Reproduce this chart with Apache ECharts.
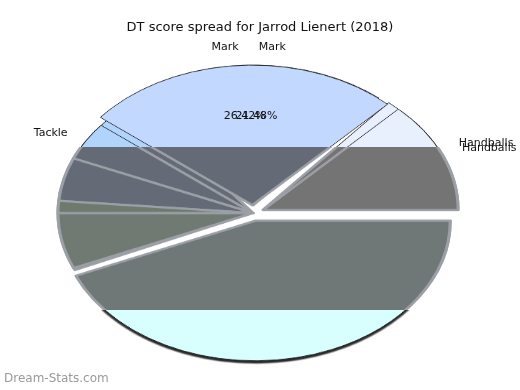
<!DOCTYPE html>
<html><head><meta charset="utf-8">
<script src="https://cdn.jsdelivr.net/npm/echarts@6/dist/echarts.min.js"></script>
<style>
html,body{margin:0;padding:0;width:520px;height:390px;overflow:hidden;background:#fff;}
.layer{position:absolute;left:0;top:0;width:520px;height:390px;}
.scaled{position:absolute;left:0;top:0;width:520px;height:560px;transform:scaleY(0.718);transform-origin:0 213px;}
#bandWrap{clip-path:inset(147px 0 80px 0);}
</style></head>
<body>
<div class="layer"><div id="base" class="scaled"></div></div>
<div class="layer" id="bandWrap"><div id="band" class="scaled"></div></div>
<div class="layer" id="text"></div>
<script>
// ---- data ----
const categories = ['Handballs', 'Mark', 'Tackle', 'Hitout', 'Free', 'Goal', 'Kick'];
const spreadA = [12.8, 26.42, 4.4, 5.0, 1.4, 6.4, 43.58];
const spreadB = [13.85, 21.48, 6.35, 6.0, 2.0, 7.0, 43.32];
const labelledA = ['Handballs', 'Mark', 'Tackle'];
const labelledB = ['Handballs', 'Mark'];
const pctShown = ['Mark'];
const exploded = ['Handballs', 'Mark', 'Kick'];

// ---- styling ----
const SY = 0.718, CX = 253, CY = 213, R = 195, OFF = 11;
const baseColors = {Handballs:'#e8f0fe', Mark:'#c3d8fe', Tackle:'#b0d4fc', Hitout:'#aac4e6', Free:'#b8c0c8', Goal:'#c8ccbc', Kick:'#d8fefe'};
const bandColors = {Handballs:'#747474', Mark:'#646b76', Tackle:'#646b76', Hitout:'#646b76', Free:'#6f7a6e', Goal:'#707a72', Kick:'#6f7876'};

function items(vals, colors, expl, shadowed) {
  return categories.map((c, i) => {
    const style = {color: colors ? colors[c] : 'rgba(0,0,0,0)'};
    if (shadowed && c === 'Kick') {
      Object.assign(style, {shadowColor: 'rgba(0,0,0,0.6)', shadowOffsetY: 3, shadowBlur: 2});
    }
    return {name: c, value: vals[i], selected: expl.indexOf(c) >= 0, itemStyle: style};
  });
}
function pieSeries(vals, colors, expl, opts, shadowed) {
  return Object.assign({
    type: 'pie', center: [CX, CY], radius: [0, R], startAngle: 0, clockwise: false,
    selectedMode: 'multiple', selectedOffset: OFF, silent: true, animation: false,
    avoidLabelOverlap: false, label: {show: false}, labelLine: {show: false},
    emphasis: {disabled: true},
    data: items(vals, colors, expl, shadowed)
  }, opts || {});
}

// base coloured pies (scaled into an ellipse)
const base = echarts.init(document.getElementById('base'), null, {renderer: 'canvas'});
base.setOption({
  animation: false,
  series: [
    pieSeries(spreadB, baseColors, exploded, {z: 1, itemStyle: {borderColor: '#222', borderWidth: 1}}, true),
    pieSeries(spreadA, baseColors, exploded, {z: 2, itemStyle: {borderColor: '#222', borderWidth: 1}}, true)
  ]
});

// dark shadow band
const band = echarts.init(document.getElementById('band'), null, {renderer: 'canvas'});
band.setOption({
  animation: false, backgroundColor: '#fff',
  series: [
    pieSeries(spreadB, bandColors, exploded, {z: 1, itemStyle: {borderColor: '#9ca0a6', borderWidth: 3}}),
    pieSeries(spreadA, bandColors, exploded, {z: 2, itemStyle: {borderColor: '#9ca0a6', borderWidth: 3}})
  ]
});

// texts (unscaled) – label positions mapped onto the ellipse
function squash(p) {
  const r = p.labelRect;
  const cy = r.y + r.height / 2;
  return {dy: (cy - CY) * (SY - 1)};
}
function nameSeries(vals, shown) {
  return pieSeries(vals, null, exploded, {
    label: {show: true, position: 'outside', color: '#111', fontFamily: 'DejaVu Sans', fontSize: 11,
      distanceToLabelLine: 0,
      formatter: p => shown.indexOf(p.name) >= 0 ? p.name : ''},
    labelLine: {show: false, length: 21, length2: 0},
    labelLayout: squash
  });
}
function pctSeries(vals) {
  return pieSeries(vals, null, exploded, {
    radius: [0, R * 1.2],
    label: {show: true, position: 'inside', color: '#111', fontFamily: 'DejaVu Sans', fontSize: 11,
      formatter: p => pctShown.indexOf(p.name) >= 0 ? p.percent + '%' : ''},
    labelLayout: squash
  });
}
const text = echarts.init(document.getElementById('text'), null, {renderer: 'canvas'});
text.setOption({
  animation: false,
  title: [
    {text: 'DT score spread for Jarrod Lienert (2018)', left: 'center', top: 16,
      textStyle: {fontFamily: 'DejaVu Sans', fontSize: 13, fontWeight: 'normal', color: '#111'}},
    {text: 'Dream-Stats.com', left: -1, bottom: 0,
      textStyle: {fontFamily: 'DejaVu Sans', fontSize: 12, fontWeight: 'normal', color: '#9a9a9a'}}
  ],
  series: [nameSeries(spreadA, labelledA), nameSeries(spreadB, labelledB),
    pctSeries(spreadA), pctSeries(spreadB)]
});
</script>
</body></html>
